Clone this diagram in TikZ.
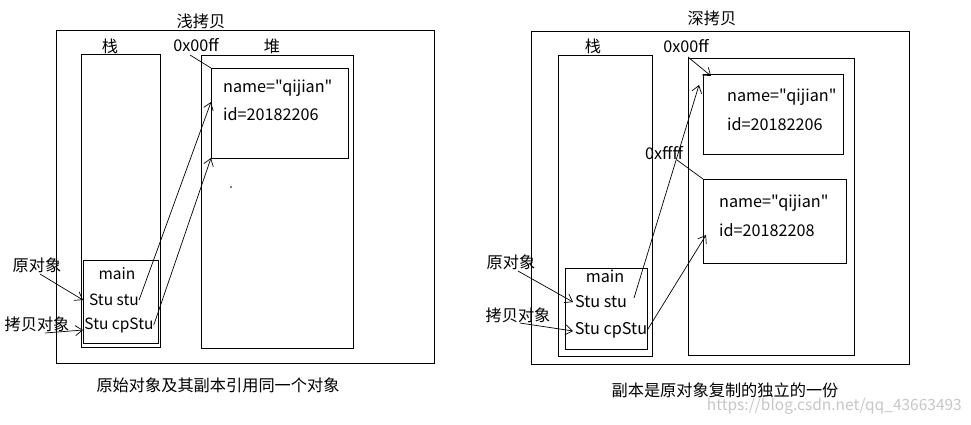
\documentclass[tikz,border=0pt]{standalone}
\usepackage{fontspec}
\setmainfont{Noto Sans CJK SC}[Ligatures=TeXOff]
\usetikzlibrary{arrows.meta}
\begin{document}
\begin{tikzpicture}[x=1pt,y=-1pt,
  box/.style={draw,line width=0.9pt,inner sep=0pt,anchor=north west},
  txt/.style={inner sep=0pt,font=\fontsize{16.2}{17}\selectfont},
  stxt/.style={inner sep=0pt,font=\fontsize{15.5}{16}\selectfont},
  cjk/.style={inner sep=0pt,font=\fontsize{16.2}{17}\selectfont},
  ln/.style={line width=0.7pt},
  arr/.style={line width=0.7pt,-{Straight Barb[length=7pt,width=10pt]}}]
\useasboundingbox (0,0) rectangle (971,424);
\fill[white] (0,0) rectangle (971,424);
% ---------- left panel ----------
\node[box,minimum width=378pt,minimum height=333pt] (outerL) at (56,30) {};
\node[box,minimum width=79pt,minimum height=293pt] (stackL) at (81,54) {};
\node[box,minimum width=75pt,minimum height=83pt] (mainL) at (83,260) {};
\node[box,minimum width=152pt,minimum height=293pt] (heapL) at (201,55) {};
\node[box,minimum width=137pt,minimum height=90pt] (objL) at (211,68) {};
\node[cjk] (titleL) at (201,21) {浅拷贝};
\node[cjk] (stackLblL) at (110,46) {栈};
\node[cjk] (heapLblL) at (272,46) {堆};
\node[txt] (addrL) at (196,45) {0x00ff};
\node[stxt] (mainTxtL) at (117,274) {main};
\node[stxt] (stuL) at (114,300) {Stu stu};
\node[stxt] (cpL) at (119,325) {Stu cpStu};
\node[txt,anchor=west] (nameL) at (223,88) {name="qijian"};
\node[txt,anchor=west] (idL) at (223,114) {id=20182206};
\node[cjk] (origL) at (37,265) {原对象};
\node[cjk] (copyL) at (37,324) {拷贝对象};
\node[cjk] (capL) at (218,385) {原始对象及其副本引用同一个对象};
\fill (231,187) circle (0.8);
\coordinate (eOrigL) at (83,300);
\coordinate (eCopyL) at (83,330);
\coordinate (eStuL) at (211,102);
\coordinate (eCpL) at (211,158);
\coordinate (eAddrL) at (211,68);
\draw[arr] (40,274) -- (eOrigL);
\draw[arr] (45,333) -- (eCopyL);
\draw[arr] (stuL.east) -- (eStuL);
\draw[arr] (cpL.east) -- (eCpL);
\draw[ln] (190,55) -- (eAddrL);
% ---------- right panel ----------
\node[box,minimum width=378pt,minimum height=333pt] (outerR) at (531,31) {};
\node[box,minimum width=94pt,minimum height=301pt] (stackR) at (558,55) {};
\node[box,minimum width=82pt,minimum height=81pt] (mainR) at (565,268) {};
\node[box,minimum width=166pt,minimum height=297pt] (heapR) at (688,58) {};
\node[box,minimum width=140pt,minimum height=80pt] (obj1R) at (703,74) {};
\node[box,minimum width=143pt,minimum height=84pt] (obj2R) at (703,179) {};
\node[cjk] (titleR) at (712,18) {深拷贝};
\node[cjk] (stackLblR) at (593,46) {栈};
\node[txt] (addr1R) at (686,46) {0x00ff};
\node[txt] (addr2R) at (664,153) {0xffff};
\node[txt] (mainTxtR) at (605,276) {main};
\node[txt] (stuR) at (601,302) {Stu stu};
\node[txt] (cpR) at (611,330) {Stu cpStu};
\node[txt,anchor=west] (name1R) at (727,97) {name="qijian"};
\node[txt,anchor=west] (id1R) at (727,124) {id=20182206};
\node[txt,anchor=west] (name2R) at (719,203) {name="qijian"};
\node[txt,anchor=west] (id2R) at (719,230) {id=20182208};
\node[cjk] (origR) at (511,262) {原对象};
\node[cjk] (copyR) at (518,315) {拷贝对象};
\node[cjk] (capR) at (725,390) {副本是原对象复制的独立的一份};
\node[stxt,text=black!22,anchor=east] (wm) at (962,406) {https://blog.csdn.net/qq\_43663493};
\coordinate (eOrigR) at (573,302);
\coordinate (eCopyR) at (573,331);
\coordinate (eStuR) at (699,85);
\coordinate (eCpR) at (706,235);
\coordinate (eAddr1R) at (711,76);
\coordinate (eAddr2R) at (703,179);
\draw[arr] (518,271) -- (eOrigR);
\draw[arr] (520,323) -- (eCopyR);
\draw[arr] (634,298) -- (eStuR);
\draw[arr] (cpR.east) -- (eCpR);
\draw[arr] (688,57) -- (eAddr1R);
\draw[ln] (677,160) -- (eAddr2R);
\end{tikzpicture}
\end{document}
